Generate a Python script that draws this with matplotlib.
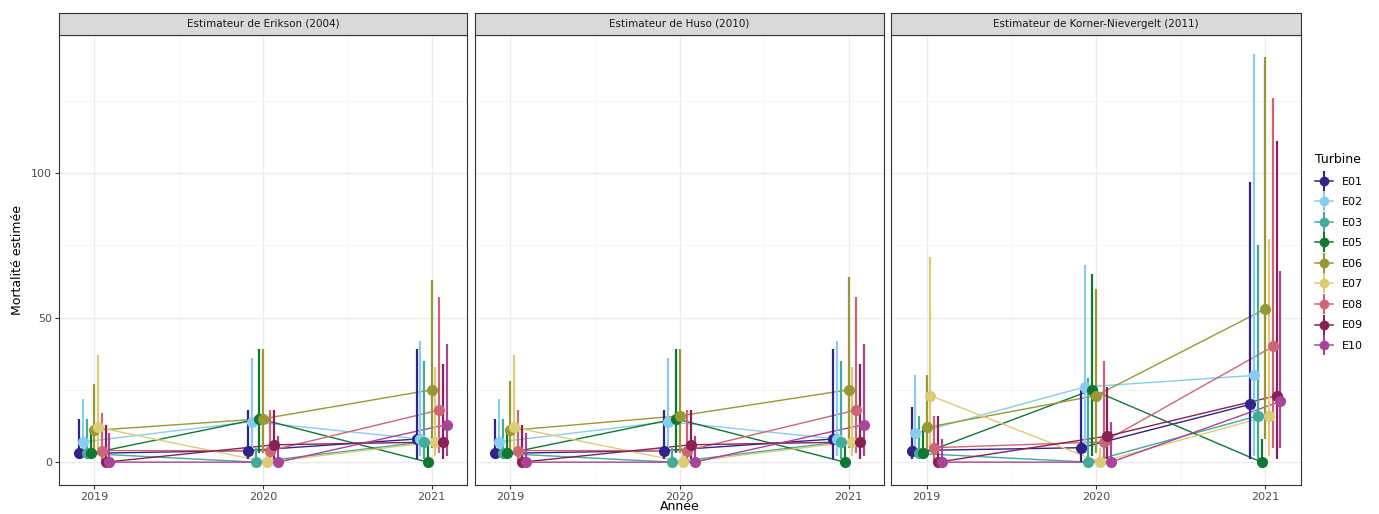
import matplotlib
matplotlib.use("Agg")
import matplotlib.pyplot as plt
from matplotlib.lines import Line2D

# -------------------------
# Données
# -------------------------
annees = [2019, 2020, 2021]
turbines = ["E01", "E02", "E03", "E05", "E06", "E07", "E08", "E09", "E10"]
couleurs = ["#332288", "#88CCEE", "#44AA99", "#117733", "#999933",
            "#DDCC77", "#CC6677", "#882255", "#AA4499"]
estimateurs = ["Estimateur de Erikson (2004)", "Estimateur de Huso (2010)",
               "Estimateur de Korner-Nievergelt (2011)"]

# une ligne par turbine, une colonne par année
erikson_est = [[3, 4, 8], [7, 14, 8], [3, 0, 7], [3, 15, 0], [11, 15, 25],
               [12, 0, 7], [4, 4, 18], [0, 6, 7], [0, 0, 13]]
erikson_bas = [[1, 1, 1], [2, 2, 2], [1, 0, 1], [1, 3, 0], [3, 3, 5],
               [4, 0, 2], [0, 0, 3], [0, 1, 1], [0, 0, 2]]
erikson_haut = [[15, 18, 39], [22, 36, 42], [15, 5, 35], [10, 39, 6], [27, 39, 63],
                [37, 5, 33], [17, 18, 57], [13, 18, 34], [10, 9, 41]]

huso_est = [[3, 4, 8], [7, 14, 8], [3, 0, 7], [3, 15, 0], [11, 16, 25],
            [12, 0, 7], [4, 4, 18], [0, 6, 7], [0, 0, 13]]
huso_bas = [[1, 1, 1], [2, 2, 2], [1, 0, 1], [1, 3, 0], [3, 3, 5],
            [4, 0, 2], [0, 0, 3], [0, 1, 1], [0, 0, 2]]
huso_haut = [[15, 18, 39], [22, 36, 42], [15, 5, 35], [10, 39, 6], [28, 39, 64],
             [37, 5, 33], [18, 18, 57], [13, 18, 34], [10, 9, 41]]

korner_est = [[4, 5, 20], [10, 26, 30], [3, 0, 16], [3, 25, 0], [12, 23, 53],
              [23, 0, 16], [5, 7, 40], [0, 9, 23], [0, 0, 21]]
korner_bas = [[1, 0, 1], [2, 3, 2], [1, 0, 1], [1, 2, 0], [2, 3, 8],
              [5, 0, 2], [0, 1, 5], [0, 1, 1], [0, 0, 5]]
korner_haut = [[19, 25, 97], [30, 68, 141], [16, 29, 75], [12, 65, 8], [30, 60, 140],
               [71, 5, 77], [16, 35, 126], [16, 26, 111], [8, 14, 66]]

panneaux = [(erikson_est, erikson_bas, erikson_haut),
            (huso_est, huso_bas, huso_haut),
            (korner_est, korner_bas, korner_haut)]

# -------------------------
# Figure
# -------------------------
W, H = 1379, 514
fig = plt.figure(figsize=(W / 100, H / 100), dpi=100)
plt.rcParams["font.family"] = "DejaVu Sans"

bords = [(59, 467), (475, 884), (891, 1301)]
haut_panneau, bas_panneau, haut_bande = 35, 485, 13
dodge = 0.2
n = len(turbines)
gris_bord = "#333333"

for k, (x0, x1) in enumerate(bords):
    ax = fig.add_axes([x0 / W, 1 - bas_panneau / H, (x1 - x0) / W, (bas_panneau - haut_panneau) / H])
    est, bas, haut = panneaux[k]
    for i, t in enumerate(turbines):
        xs = [a + (i - (n - 1) / 2) * dodge / n for a in annees]
        c = couleurs[i]
        ax.plot(xs, est[i], color=c, lw=1.0, zorder=2)
        ax.vlines(xs, bas[i], haut[i], color=c, lw=1.6, zorder=3)
        ax.plot(xs, est[i], "o", color=c, ms=7, zorder=4)

    ax.set_xlim(2018.79, 2021.21)
    ax.set_ylim(-7.9, 147.7)
    ax.set_xticks(annees)
    ax.set_xticks([2019.5, 2020.5], minor=True)
    ax.set_yticks([0, 50, 100])
    ax.set_yticks([25, 75, 125], minor=True)
    ax.grid(True, which="major", color="#EBEBEB", lw=1.0, zorder=0)
    ax.grid(True, which="minor", color="#F4F4F4", lw=0.6, zorder=0)
    ax.set_axisbelow(True)
    ax.tick_params(which="minor", length=0)
    ax.tick_params(which="major", length=3, color=gris_bord, labelsize=8, labelcolor="#4D4D4D", pad=2)
    if k > 0:
        ax.tick_params(axis="y", left=False, labelleft=False)
    for s in ax.spines.values():
        s.set_color(gris_bord)
        s.set_linewidth(0.8)

    # bandeau de facette
    bande = fig.add_axes([x0 / W, 1 - haut_panneau / H, (x1 - x0) / W, (haut_panneau - haut_bande) / H])
    bande.set_facecolor("#D9D9D9")
    bande.set_xticks([])
    bande.set_yticks([])
    for s in bande.spines.values():
        s.set_color(gris_bord)
        s.set_linewidth(0.8)
    bande.text(0.5, 0.5, estimateurs[k], ha="center", va="center", fontsize=7.5, color="#1A1A1A")

fig.text(18 / W, 1 - 260 / H, "Mortalité estimée", rotation=90, ha="center", va="center", fontsize=9)
fig.text(680 / W, 1 - 507 / H, "Année", ha="center", va="center", fontsize=9)

# légende
poignees = [(Line2D([], [], color=c, lw=1.1, marker="o", ms=6),
             Line2D([], [], color=c, lw=0, marker="|", ms=14, mew=1.5)) for c in couleurs]
leg = fig.legend(poignees, turbines, title="Turbine", loc="upper left",
                 bbox_to_anchor=(1305 / W, 1 - 143 / H), frameon=False,
                 fontsize=8, title_fontsize=9, handlelength=1.6, labelspacing=0.95,
                 handletextpad=0.8)
leg._legend_box.align = "left"

fig.savefig("out.png", dpi=100)
